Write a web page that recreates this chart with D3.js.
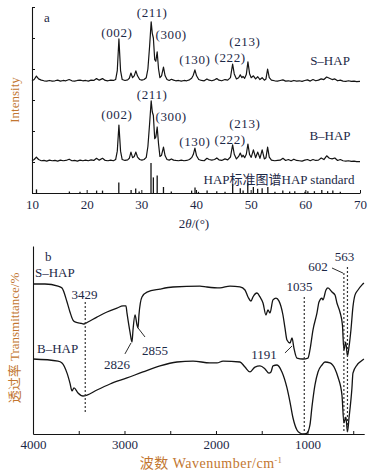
<!DOCTYPE html>
<html><head><meta charset="utf-8">
<script src="https://cdn.jsdelivr.net/npm/d3@7"></script>
<style>body{margin:0;background:#fff}svg{display:block}</style>
</head><body><svg id="c" width="388" height="475"></svg>
<script>
// ---------- DATA ----------
// Panel a: XRD patterns (2θ in degrees, intensity in a.u.)
const twoTheta = [
 10.0,10.4,10.8,11.2,11.7,12.2,12.7,13.2,13.7,14.2,
 14.7,15.2,15.7,16.2,16.8,17.3,17.8,18.3,18.8,19.3,
 19.8,20.3,20.8,21.3,21.8,22.3,22.9,23.4,23.9,24.4,
 24.9,25.3,25.6,25.9,26.2,26.5,27.0,27.5,27.8,28.1,
 28.4,28.7,29.0,29.3,29.7,30.1,30.5,30.9,31.2,31.5,
 31.8,32.0,32.2,32.45,32.65,32.9,33.15,33.4,33.7,34.05,
 34.35,34.7,35.1,35.5,35.9,36.3,36.8,37.3,37.8,38.3,
 38.8,39.2,39.5,39.8,40.1,40.5,41.0,41.5,42.0,42.4,
 42.9,43.4,43.8,44.2,44.7,45.3,45.8,46.3,46.7,47.0,
 47.4,47.8,48.1,48.4,48.6,48.9,49.2,49.5,49.8,50.1,
 50.5,50.9,51.3,51.7,52.1,52.5,52.8,53.1,53.4,53.8,
 54.4,54.9,55.4,55.9,56.4,56.9,57.4,57.9,58.4,58.9,
 59.4,59.9,60.4,60.9,61.4,61.9,62.4,62.9,63.4,63.9,
 64.4,64.9,65.4,65.9,66.4,66.9,67.4,67.9,68.4,68.9,
 69.4,70.0];
const sHapXrd = [
 362,366,377,368,364,362,361,363,361,362,
 364,361,363,362,366,362,361,363,364,362,
 363,361,364,363,369,364,369,363,362,364,
 363,366,395,497,395,366,363,365,370,387,
 372,378,394,378,366,364,366,372,400,470,
 552,515,500,430,425,455,400,372,378,406,
 378,366,363,367,364,362,363,361,363,362,
 365,370,380,397,378,366,363,362,368,364,
 362,365,369,364,362,366,364,372,416,384,
 368,372,381,372,376,370,382,423,385,372,
 378,368,375,366,372,364,368,400,372,364,
 362,361,363,365,361,362,360,363,361,362,
 360,363,365,361,366,362,364,368,366,374,
 370,366,368,362,364,361,360,362,360,361,
 359,360];
const bHapXrd = [
 104,108,116,108,104,105,103,106,104,105,
 103,106,104,105,109,104,105,103,106,104,
 106,104,107,105,112,106,112,105,104,106,
 104,108,135,219,135,108,105,107,112,132,
 114,118,132,116,108,106,108,115,150,220,
 297,262,250,175,180,213,158,118,122,148,
 120,108,106,110,106,105,104,106,104,105,
 108,114,124,145,120,108,105,104,112,108,
 106,108,113,107,105,110,107,116,155,125,
 110,118,129,116,122,114,125,158,124,115,
 139,114,132,112,139,110,114,148,116,106,
 104,105,106,112,105,108,104,109,105,104,
 103,106,108,104,108,105,106,113,108,120,
 112,110,113,105,108,104,103,104,102,103,
 101,101];
// HAP standard card lines (2θ, relative intensity %)
const stdAngles = [10.82,16.84,18.78,21.82,22.90,25.88,28.13,28.97,29.6,31.77,32.20,32.90,34.05,35.48,39.20,39.82,40.45,42.03,43.80,45.31,46.71,48.10,48.62,49.47,50.49,51.28,52.10,53.14,54.44,55.88,57.13,58.07,59.94,60.46,61.66,63.01,64.08,65.03,66.4];
const stdIntensity = [12,5,4,8,8,35,10,15,5,100,52,58,20,5,8,18,4,8,6,4,30,16,8,35,20,14,16,20,4,8,5,6,4,6,6,10,6,8,4];
const xrdTicks = [10,20,30,40,50,60,70];
const xrdPeakLabels = ["(002)","(211)","(300)","(130)","(222)","(213)"];
const xrdPeakAngles = [25.9,31.8,32.9,39.8,46.7,49.5];

// Panel b: FTIR spectra (wavenumber cm-1, transmittance a.u.)
const sHapFtir = [[4000,79.8],[3869,79.8],[3727,78.7],[3683,77.7],[3628,70.2],[3596,64.9],[3563,60.6],[3541,59.6],[3486,59.0],[3443,58.5],[3399,59.6],[3301,62.2],[3191,64.9],[3082,67.0],[3016,68.1],[2984,68.1],[2973,64.4],[2940,54.3],[2918,48.9],[2907,55.3],[2885,63.3],[2863,58.0],[2852,56.4],[2842,63.3],[2809,72.9],[2754,75.5],[2612,77.1],[2470,78.2],[2175,78.7],[2098,78.2],[1956,77.7],[1847,78.7],[1738,78.2],[1683,76.6],[1650,72.9],[1617,70.7],[1596,72.9],[1552,75.0],[1519,72.9],[1486,69.7],[1454,63.3],[1432,66.0],[1410,64.4],[1377,71.3],[1344,72.3],[1311,70.7],[1268,63.3],[1246,56.4],[1224,50.0],[1191,48.4],[1169,51.1],[1148,45.7],[1115,40.4],[1049,39.9],[995,40.4],[973,44.7],[940,55.3],[896,64.4],[874,70.2],[842,72.3],[831,71.3],[798,76.6],[776,77.7],[732,75.5],[699,73.9],[678,69.7],[645,64.9],[618,58.0],[602,44.7],[582,48.9],[563,41.5],[546,46.3],[525,55.3],[503,67.6],[481,73.9],[448,76.6],[404,79.3],[383,80.3]];
const bHapFtir = [[4000,39.9],[3727,38.8],[3683,37.8],[3628,32.4],[3596,27.1],[3574,22.9],[3552,24.5],[3508,21.8],[3454,20.2],[3410,20.7],[3301,23.4],[3158,26.6],[2973,29.8],[2798,33.0],[2612,36.2],[2426,38.3],[2251,38.8],[2066,37.8],[1989,37.8],[1923,38.8],[1738,38.3],[1683,35.6],[1628,33.0],[1574,35.6],[1519,36.2],[1464,34.6],[1421,32.4],[1399,33.0],[1377,36.2],[1333,36.7],[1279,33.0],[1224,24.5],[1191,17.0],[1158,8.5],[1115,2.1],[1082,0.5],[1049,0.0],[1005,0.5],[973,4.8],[951,14.4],[918,26.1],[885,33.0],[842,36.7],[809,38.3],[754,37.8],[699,34.6],[667,30.3],[623,20.7],[602,5.9],[580,9.0],[563,1.1],[546,8.5],[514,24.5],[503,32.4],[459,36.7],[426,38.3],[383,39.9]];
const ftirTicks = [4000,3500,3000,2500,2000,1500,1000,500];
const bandLabels = ["3429","2826","2855","1191","1035","602","563"];
const dottedBands = [3429,1035,602,563];

// ---------- LAYOUT / STYLE ----------
const SERIF = "'Liberation Serif','Times New Roman','Noto Sans CJK SC',serif";
const NAVY = "#1c2846", ORANGE = "#c27630", INK = "#141414";
const svg = d3.select("#c");

// Panel a
const xA = d3.scaleLinear().domain([10,70]).range([32,360]);
const yA = d3.scaleLinear().domain([0,600]).range([193,7]);
const yStd = d3.scaleLinear().domain([0,100]).range([193,163]);

const lineA = d3.line().x((d,i)=>xA(twoTheta[i])).y(d=>yA(d));
[sHapXrd,bHapXrd].forEach(s=>{
  svg.append("path").datum(s).attr("d",lineA).attr("fill","none")
    .attr("stroke",INK).attr("stroke-width",1.2).attr("stroke-linejoin","round");
});
svg.append("g").selectAll("line").data(stdAngles).join("line")
  .attr("x1",d=>xA(d)).attr("x2",d=>xA(d))
  .attr("y1",yStd(0)).attr("y2",(d,i)=>yStd(stdIntensity[i]))
  .attr("stroke",INK).attr("stroke-width",1.3);

function styleAxis(g){
  g.selectAll("text").attr("font-family",SERIF).attr("font-size",13).attr("fill",NAVY);
  g.selectAll("line").attr("stroke",INK);
  g.select(".domain").attr("stroke",INK).attr("stroke-width",1.1);
}
svg.append("g").attr("transform","translate(0,193)")
  .call(d3.axisBottom(xA).tickValues(xrdTicks).tickSizeInner(-3).tickSizeOuter(0).tickPadding(7))
  .call(styleAxis);
svg.append("g").attr("transform","translate(32,0)")
  .call(d3.axisLeft(yA).tickValues([0,100,200,300,400,500,600]).tickSizeInner(-3).tickSizeOuter(0).tickFormat(""))
  .call(styleAxis);

function txt(x,y,s,opt={}){
  return svg.append("text").attr("x",x).attr("y",y).text(s)
    .attr("font-family",SERIF).attr("font-size",opt.size||13)
    .attr("fill",opt.fill||NAVY).attr("text-anchor",opt.anchor||"middle")
    .attr("letter-spacing",opt.ls||0);
}
// peak labels
const labDx = [-2,1,14,0,-2.5,-3];
const labYS = [37,17,39,64,62,46];
const bShift = 82;
xrdPeakLabels.forEach((t,i)=>{
  txt(xA(xrdPeakAngles[i])+labDx[i], labYS[i], t, {ls:0.6});
  txt(xA(xrdPeakAngles[i])+labDx[i], labYS[i]+bShift, t, {ls:0.6});
});
txt(44,22,"a",{anchor:"start"});
txt(330,65,"S–HAP");
txt(330,140,"B–HAP");
txt(279,184,"HAP标准图谱HAP standard");
const xt = svg.append("text").attr("x",194).attr("y",228).attr("text-anchor","middle")
  .attr("font-family",SERIF).attr("font-size",13).attr("fill",NAVY);
xt.append("tspan").text("2");
xt.append("tspan").attr("font-style","italic").text("θ");
xt.append("tspan").text("/(°)");
svg.append("text").attr("transform","translate(19,100) rotate(-90)").attr("text-anchor","middle")
  .attr("font-family",SERIF).attr("font-size",13).attr("fill",ORANGE).text("Intensity");

// Panel b
const xB = d3.scaleLinear().domain([4000,380]).range([33,364.2]);
const yB = d3.scaleLinear().domain([0,100]).range([434,246]);
const lineB = d3.line().x(d=>xB(d[0])).y(d=>yB(d[1])).curve(d3.curveMonotoneX);
[sHapFtir,bHapFtir].forEach(s=>{
  svg.append("path").datum(s).attr("d",lineB).attr("fill","none")
    .attr("stroke",INK).attr("stroke-width",1.3).attr("stroke-linejoin","round");
});
svg.append("g").attr("transform","translate(0,434)")
  .call(d3.axisBottom(xB).tickValues(ftirTicks).tickFormat(d=>d%1000===0?d:"").tickSizeInner(-3).tickSizeOuter(0).tickPadding(6))
  .call(styleAxis);
svg.append("g").attr("transform","translate(33,0)")
  .call(d3.axisLeft(yB).tickValues([]).tickSizeOuter(0))
  .call(styleAxis);

// dotted band lines (top, bottom in transmittance units)
const dotTop = [70.2,72.9,85.6,88.8], dotBot = [11.7,0,1.1,1.1];
dottedBands.forEach((w,i)=>{
  svg.append("line").attr("x1",xB(w)).attr("x2",xB(w)).attr("y1",yB(dotTop[i])).attr("y2",yB(dotBot[i]))
    .attr("stroke","#333").attr("stroke-width",1.2).attr("stroke-dasharray","2,2");
});
// band labels (position in data coordinates)
const bandLabPos = [[3437,71.8],[3082,34.6],[2667,42],[1475,39.9],[1087,76],[885,86.7],[596,92]];
bandLabels.forEach((t,i)=>txt(xB(bandLabPos[i][0]), yB(bandLabPos[i][1]), t));
// leader lines
const leaders = [[[2995,42.6],[2929,48.4]],[[2852,56.4],[2776,51.6]],[[1246,43.1],[1169,46.8]],[[732,88.3],[612,85.6]]];
leaders.forEach(l=>{
  svg.append("line").attr("x1",xB(l[0][0])).attr("y1",yB(l[0][1])).attr("x2",xB(l[1][0])).attr("y2",yB(l[1][1]))
    .attr("stroke",INK).attr("stroke-width",0.9);
});
txt(45,261,"b",{anchor:"start"});
txt(35,277,"S–HAP",{anchor:"start"});
txt(37,353,"B–HAP",{anchor:"start"});
const xl = svg.append("text").attr("x",211).attr("y",468).attr("text-anchor","middle")
  .attr("font-family",SERIF).attr("font-size",14).attr("letter-spacing",0.5).attr("fill",ORANGE);
xl.append("tspan").text("波数 Wavenumber/cm");
xl.append("tspan").attr("dy",-5).attr("font-size",8).text("-1");
svg.append("text").attr("transform","translate(19,338) rotate(-90)").attr("text-anchor","middle")
  .attr("font-family",SERIF).attr("font-size",13).attr("fill",ORANGE).text("透过率 Transmittance/%");
</script></body></html>
